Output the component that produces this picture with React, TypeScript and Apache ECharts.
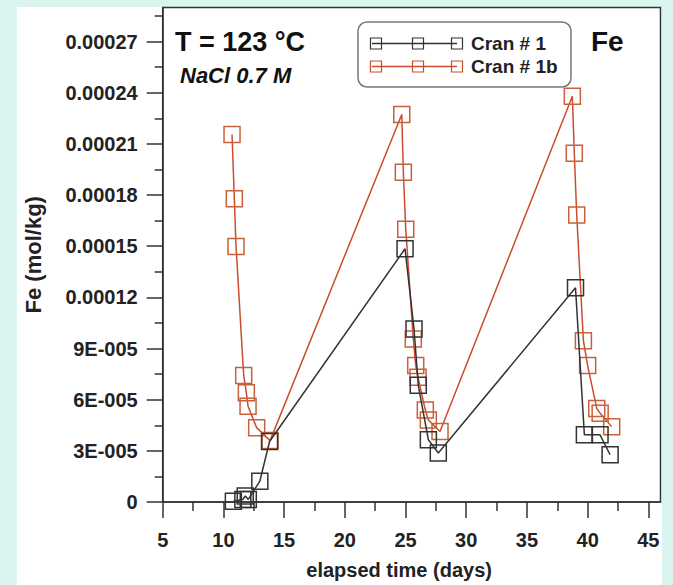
import React, { useEffect, useRef } from 'react';
import * as echarts from 'echarts';

// Cran # 1 (black)
const cran1Days = [10.82, 11.6, 11.8, 12.05, 13.0, 13.8, 24.96, 25.7, 26.05, 26.88, 27.7, 39.0, 39.73, 41.02, 41.85];
const cran1Fe = [0.0000005, 0.0000015, 0.0000035, 0.0000015, 0.0000122, 0.0000355, 0.0001485, 0.0001014, 0.0000684, 0.0000365, 0.0000287, 0.0001256, 0.0000394, 0.0000394, 0.0000277];
// Cran # 1b (red)
const cran1bDays = [10.71, 10.9, 11.04, 11.67, 11.89, 12.03, 12.74, 13.84, 24.69, 24.82, 25.02, 25.64, 25.84, 26.03, 26.63, 26.88, 27.84, 38.74, 38.9, 39.1, 39.65, 40.0, 40.75, 41.03, 41.98];
const cran1bFe = [0.0002155, 0.0001779, 0.0001498, 0.0000742, 0.000064, 0.0000562, 0.0000436, 0.000036, 0.0002273, 0.0001934, 0.0001599, 0.0000956, 0.00008, 0.0000731, 0.0000539, 0.0000481, 0.0000413, 0.000238, 0.0002045, 0.0001683, 0.0000946, 0.00008, 0.0000549, 0.000052, 0.0000442];

const xTicks = [5, 10, 15, 20, 25, 30, 35, 40, 45];
const xMinorTicks = [7.5, 12.5, 17.5, 22.5, 27.5, 32.5, 37.5, 42.5];
const yTicks = [0, 0.00003, 0.00006, 0.00009, 0.00012, 0.00015, 0.00018, 0.00021, 0.00024, 0.00027];
const yTickLabels = ['0', '3E-005', '6E-005', '9E-005', '0.00012', '0.00015', '0.00018', '0.00021', '0.00024', '0.00027'];
const yMinorTicks = [0.000015, 0.000045, 0.000075, 0.000105, 0.000135, 0.000165, 0.000195, 0.000225, 0.000255, 0.000285];

const seriesNames = ['Cran # 1', 'Cran # 1b'];
const BLACK = '#333333';
const RED = '#cc4c2c';
const FONT = '"Liberation Sans", Arial, Helvetica, sans-serif';

export default function App() {
  const ref = useRef<HTMLDivElement>(null);
  useEffect(() => {
    if (!ref.current) return;
    const chart = echarts.init(ref.current, null, { renderer: 'svg' });
    const axisLine = { show: true, lineStyle: { color: BLACK, width: 1.5 } };
    const legendRow = (y: number, color: string, label: string) => ({
      type: 'group',
      children: [
        { type: 'line', shape: { x1: 372, y1: y, x2: 457, y2: y }, style: { stroke: color, lineWidth: 1.5 } },
        ...[376, 418, 457].map((cx) => ({
          type: 'rect',
          shape: { x: cx - 5.5, y: y - 5.5, width: 11, height: 11 },
          style: { fill: 'none', stroke: color, lineWidth: 1.2 },
        })),
        {
          type: 'text',
          x: 471,
          y: y,
          style: { text: label, fill: '#222', font: `bold 19px ${FONT}`, textVerticalAlign: 'middle' },
        },
      ],
    });
    chart.setOption({
      animation: false,
      backgroundColor: '#daf4f0',
      grid: { left: 162.7, right: 12.5, top: 7.5, bottom: 77.3, show: true, borderColor: BLACK, borderWidth: 1.5, backgroundColor: 'transparent' },
      xAxis: [
        {
          type: 'value', min: 5, max: 46, interval: 5,
          name: 'elapsed time (days)', nameLocation: 'middle', nameGap: 58,
          nameTextStyle: { fontFamily: FONT, fontWeight: 'bold', fontSize: 20, color: '#222', padding: [0, 25, 0, 0] },
          axisLine: { ...axisLine, onZero: false },
          axisTick: { show: true, length: 16, inside: false, lineStyle: { color: BLACK, width: 1.5 }, customValues: xTicks },
          axisLabel: { customValues: xTicks, margin: 28, fontFamily: FONT, fontWeight: 'bold', fontSize: 20, color: '#222' },
          splitLine: { show: false },
        },
        {
          type: 'value', min: 5, max: 46, position: 'bottom', gridIndex: 0,
          axisLine: { show: false },
          axisTick: { show: true, length: 9, lineStyle: { color: BLACK, width: 1.5 }, customValues: xMinorTicks },
          axisLabel: { show: false },
          splitLine: { show: false },
        },
      ],
      yAxis: [
        {
          type: 'value', min: 0, max: 0.00029, interval: 0.00003,
          name: 'Fe (mol/kg)', nameLocation: 'middle', nameGap: 118, nameRotate: 90,
          nameTextStyle: { fontFamily: FONT, fontWeight: 'bold', fontSize: 22, color: '#222' },
          axisLine: { ...axisLine, onZero: false },
          axisTick: { show: true, length: 16, lineStyle: { color: BLACK, width: 1.5 }, customValues: yTicks },
          axisLabel: {
            customValues: yTicks, margin: 25, fontFamily: FONT, fontWeight: 'bold', fontSize: 20, color: '#222',
            formatter: (v: number) => yTickLabels[Math.round(v / 0.00003)] ?? '',
          },
          splitLine: { show: false },
        },
        {
          type: 'value', min: 0, max: 0.00029, position: 'left', gridIndex: 0,
          axisLine: { show: false },
          axisTick: { show: true, length: 8, lineStyle: { color: BLACK, width: 1.5 }, customValues: yMinorTicks },
          axisLabel: { show: false },
          splitLine: { show: false },
        },
      ],
      graphic: [
        { type: 'rect', z: -100, silent: true, shape: { x: 17, y: 7, width: 645, height: 578 }, style: { fill: '#ffffff' } },
        { type: 'text', x: 175, y: 42, style: { text: 'T = 123 °C', fill: '#111', font: `bold 27px ${FONT}`, textVerticalAlign: 'middle' } },
        { type: 'text', x: 180, y: 75, style: { text: 'NaCl 0.7 M', fill: '#111', font: `italic bold 22px ${FONT}`, textVerticalAlign: 'middle' } },
        { type: 'text', x: 591, y: 41, style: { text: 'Fe', fill: '#111', font: `bold 28px ${FONT}`, textVerticalAlign: 'middle' } },
        { type: 'rect', shape: { x: 358, y: 22, width: 213, height: 65, r: 9 }, style: { fill: '#fff', stroke: '#777', lineWidth: 1.5 } },
        legendRow(43.5, BLACK, seriesNames[0]),
        legendRow(66.5, RED, seriesNames[1]),
      ],
      series: [
        {
          name: seriesNames[0], type: 'line', xAxisIndex: 0, yAxisIndex: 0,
          data: cran1Days.map((d, i) => [d, cran1Fe[i]]),
          symbol: 'rect', symbolSize: 16,
          lineStyle: { color: BLACK, width: 1.5 },
          itemStyle: { color: 'rgba(0,0,0,0)', borderColor: BLACK, borderWidth: 1.5 },
          z: 3,
        },
        {
          name: seriesNames[1], type: 'line', xAxisIndex: 0, yAxisIndex: 0,
          data: cran1bDays.map((d, i) => [d, cran1bFe[i]]),
          symbol: 'rect', symbolSize: 16,
          lineStyle: { color: RED, width: 1.5 },
          itemStyle: { color: 'rgba(0,0,0,0)', borderColor: '#c8603c', borderWidth: 1.5 },
          z: 2,
        },
      ],
    });
    return () => chart.dispose();
  }, []);
  return <div ref={ref} style={{ position: 'fixed', left: 0, top: 0, width: 673, height: 585 }} />;
}
